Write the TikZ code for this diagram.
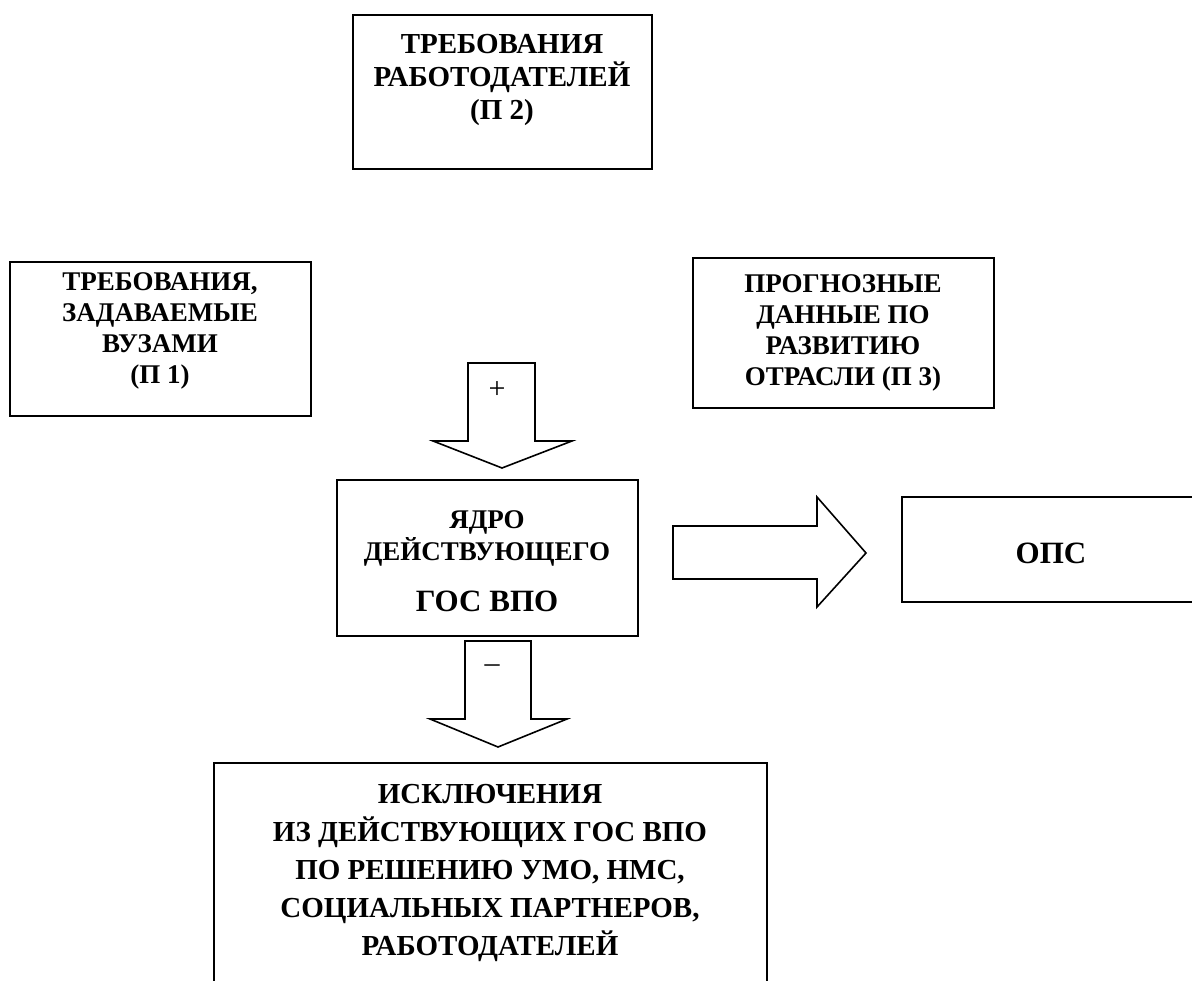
\documentclass[tikz,border=0pt]{standalone}
\usepackage{fontspec}
\setmainfont{Liberation Serif}
\begin{document}
\begin{tikzpicture}[x=1pt,y=-1pt,
  box/.style={draw, line width=1.8pt, inner sep=0pt},
  lbl/.style={font=\bfseries\fontsize{27}{31}\selectfont, align=center, inner sep=0pt},
  lblbig/.style={font=\bfseries\fontsize{31}{34}\selectfont, align=center, inner sep=0pt},
  blockarrow/.style={draw, line width=1.6pt, line join=miter, fill=white},
  sign/.style={font=\fontsize{30}{30}\selectfont, inner sep=0pt}]
\clip (0,0) rectangle (1192,981);
\fill[white] (0,0) rectangle (1192,981);

% --- requirement boxes ---
\node[box, minimum width=299pt, minimum height=154pt] (p2) at (502.5,92) {};
\node[lbl, font=\bfseries\fontsize{29}{33}\selectfont] (p2t) at (502,80)
  {ТРЕБОВАНИЯ\\РАБОТОДАТЕЛЕЙ\\(П 2)};

\node[box, minimum width=301pt, minimum height=154pt] (p1) at (160.5,339) {};
\node[lbl] (p1t) at (160,331) {ТРЕБОВАНИЯ,\\ЗАДАВАЕМЫЕ\\ВУЗАМИ\\(П 1)};

\node[box, minimum width=301pt, minimum height=150pt] (p3) at (843.5,333) {};
\node[lbl] (p3t) at (843,333) {ПРОГНОЗНЫЕ\\ДАННЫЕ ПО\\РАЗВИТИЮ\\ОТРАСЛИ (П 3)};

% --- core box ---
\node[box, minimum width=301pt, minimum height=156pt] (core) at (487.5,558) {};
\node[lbl, font=\bfseries\fontsize{27}{32}\selectfont] (coret) at (487,538) {ЯДРО\\ДЕЙСТВУЮЩЕГО};
\node[lblbig] (coregos) at (487,601) {ГОС ВПО};

% --- result box (runs past the right edge) ---
\draw[line width=1.8pt] (1200,497) -- (902,497) -- (902,602) -- (1200,602);
\node[lblbig] (ops) at (1051,553) {ОПС};

% --- exclusions box (runs past the bottom edge) ---
\draw[line width=1.8pt] (214,1000) -- (214,763) -- (767,763) -- (767,1000);
\node[lbl, font=\bfseries\fontsize{29}{38}\selectfont] (excl) at (490,873)
  {ИСКЛЮЧЕНИЯ\\ИЗ ДЕЙСТВУЮЩИХ ГОС ВПО\\ПО РЕШЕНИЮ УМО, НМС,\\СОЦИАЛЬНЫХ ПАРТНЕРОВ,\\РАБОТОДАТЕЛЕЙ};

% --- block arrows ---
\draw[blockarrow] (468,363) -- (535,363) -- (535,441) -- (572,441) -- (502,468)
  -- (433,441) -- (468,441) -- cycle;
\node[sign] (plus) at (497,390) {+};

\draw[blockarrow] (465,641) -- (531,641) -- (531,719) -- (567,719) -- (498,747)
  -- (430,719) -- (465,719) -- cycle;
\node[sign] (minus) at (492,669) {–};

\draw[blockarrow] (673,526) -- (817,526) -- (817,497) -- (866,553) -- (817,607)
  -- (817,579) -- (673,579) -- cycle;
\end{tikzpicture}
\end{document}
